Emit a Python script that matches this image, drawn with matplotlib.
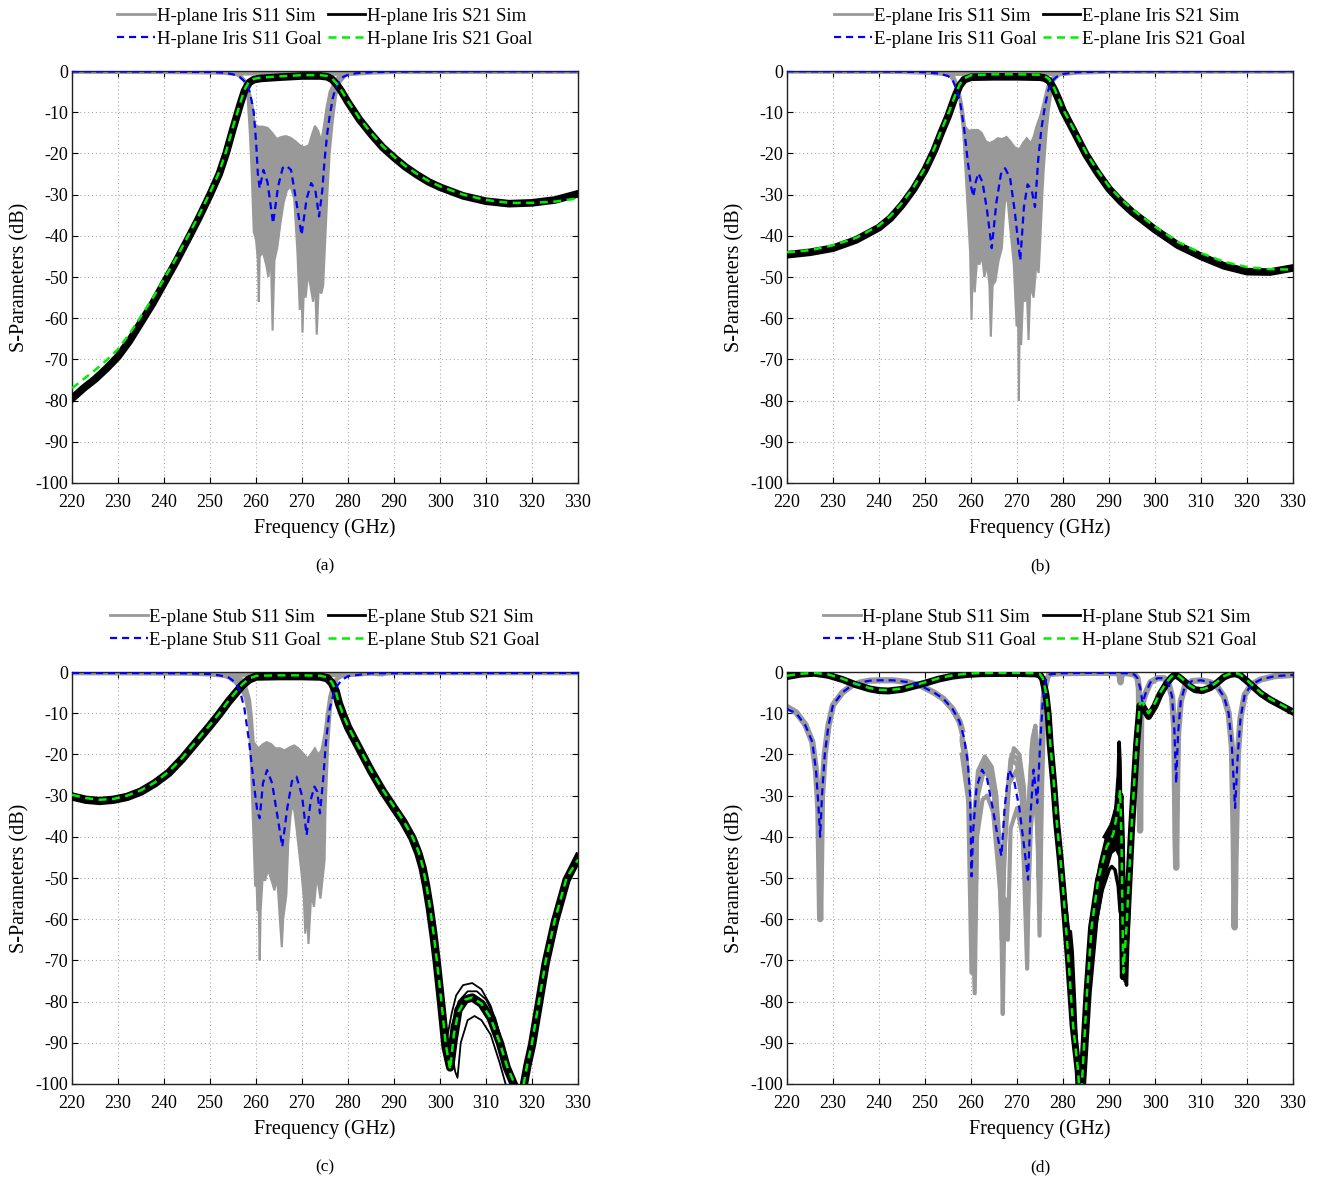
import numpy as np
import matplotlib
matplotlib.use('Agg')
import matplotlib.pyplot as plt
from matplotlib.lines import Line2D

plt.rcParams['font.family'] = ['Liberation Serif', 'DejaVu Serif']
plt.rcParams['axes.unicode_minus'] = False

GRAY = '#999999'
BLUE = '#0000ff'
GREEN = '#00ee00'

# ---------------- Panel (a): H-plane Iris ----------------
a_s21_f = [220, 222.5, 225, 227.5, 230, 232.5, 235, 237.5, 240, 242.5, 245, 247.5, 250, 252, 253.5, 255, 256.5,
           257.5, 258.5, 259.5, 261, 265, 270, 274, 275.5, 276.5, 277.5, 278.5, 280, 282.5, 285, 287.5, 290,
           292.5, 295, 297.5, 300, 305, 310, 315, 320, 325, 330]
a_s21_goal = [-77, -74.8, -72.6, -70.2, -67.5, -63.8, -59.5, -55.2, -50.5, -45.7, -40.5, -35.2, -29.5, -24.5,
              -19.5, -13.5, -8, -4.5, -2.5, -1.9, -1.6, -1.3, -1.0, -1.0, -1.2, -1.8, -3.0, -4.6, -7.4, -11.5,
              -15, -18.2, -20.8, -23.1, -25, -26.7, -28, -30, -31.3, -32, -32, -31.7, -30.9]
a_s21_sim = [-79.5, -77, -74.8, -72.2, -69.3, -65.5, -61, -56.5, -51.5, -46.5, -41.2, -35.8, -30, -25, -20, -14,
             -8.3, -4.8, -2.8, -2.1, -1.8, -1.5, -1.2, -1.2, -1.4, -2.0, -3.2, -4.8, -7.6, -11.8, -15.3, -18.5,
             -21, -23.3, -25.2, -26.9, -28.2, -30.3, -31.6, -32.2, -32, -31.3, -29.8]
a_s11_goal_f = [220, 240, 250, 253, 255, 256.5, 257.5, 258.3, 259, 259.5, 260, 260.4, 260.8, 261.6, 262.5,
                263.7, 264.8, 265.8, 266.6, 267.6, 268.8, 269.9, 271, 272, 272.9, 273.7, 274.4, 274.9, 275.5,
                276, 276.7, 277.4, 278.2, 279, 280, 282, 285, 290, 300, 330]
a_s11_goal = [-0.1, -0.15, -0.25, -0.4, -0.8, -1.5, -2.5, -3.8, -7, -10, -17, -25, -28.5, -24, -27, -37, -28,
              -23.5, -23, -24, -32, -39.8, -31, -27.2, -29, -35.3, -29, -21.6, -15, -11, -6.5, -3.8, -2.2,
              -1.4, -0.9, -0.5, -0.3, -0.15, -0.1, -0.05]
a_s11_up_f = [255, 256.5, 257.5, 258.5, 259.2, 259.7, 260.5, 261.5, 262.5, 263.5, 264.5, 265.5, 266.5, 267.5,
              268.5, 269.5, 270.5, 271.5, 272, 272.8, 273.5, 274.2, 274.8, 275.3, 276, 277, 278, 280]
a_s11_up = [-0.3, -0.8, -2, -4.5, -8, -13, -13.5, -13.5, -13.8, -15, -16.5, -16, -15.8, -16.2, -17, -18, -18.5,
            -18, -16, -13.3, -14.5, -17, -13, -9, -5, -2.5, -1, -0.3]
a_s11_lo_f = [255, 256.5, 257.4, 258.2, 258.7, 259.1, 259.5, 260, 260.4, 260.6, 260.8, 261.5, 262.2, 262.7,
              263.2, 263.6, 264, 264.6, 265.3, 266, 266.7, 267.5, 268.3, 269, 269.5, 269.8, 270.1, 270.4,
              270.8, 271.3, 271.8, 272.4, 272.8, 273.2, 273.6, 274.2, 274.6, 275, 275.5, 276, 276.7, 277.4,
              278.3, 279.5, 281]
a_s11_lo = [-0.5, -1.5, -2.5, -7, -16, -26, -39, -41, -46, -56, -45, -44, -47, -50, -44, -63, -46, -43, -37,
            -32, -29, -28, -31, -44, -58, -48, -63.5, -52, -55, -49, -52, -56, -50, -64, -53, -54, -52, -42,
            -30, -20, -12, -6, -2.8, -1.2, -0.5]
a_s11_out_f = [220, 240, 250, 253, 255, 281, 285, 290, 330]
a_s11_out = [-0.1, -0.15, -0.25, -0.35, -0.5, -0.6, -0.3, -0.15, -0.1]

# ---------------- Panel (b): E-plane Iris ----------------
b_s21_f = [220, 225, 230, 235, 240, 242.5, 245, 247.5, 250, 252, 253.5, 255, 256.5, 257.5, 258.5, 260, 265,
           270, 275, 276, 277, 278, 279, 280, 282.5, 285, 287.5, 290, 292.5, 295, 300, 305, 310, 315, 320,
           325, 330]
b_s21_goal = [-44, -43.5, -42.3, -40.5, -37.5, -35.2, -32, -28.2, -23.5, -18.8, -14.5, -10.5, -6, -3.3, -1.8,
              -1.0, -0.8, -0.8, -0.9, -1.2, -2, -4, -6.5, -9.3, -14.5, -19.8, -24.2, -28, -31, -33.5, -37.8,
              -41.5, -44.2, -46.3, -47.6, -48.1, -48.2]
b_s21_sim = [-44.6, -44, -43, -41, -38, -35.7, -32.5, -28.7, -24, -19.3, -15, -11, -6.3, -3.6, -2.1, -1.5,
             -1.4, -1.4, -1.5, -1.7, -2.4, -4.3, -6.8, -9.6, -14.9, -20.3, -24.7, -28.6, -31.6, -34.2, -38.5,
             -42.3, -45, -47.3, -48.7, -48.8, -47.8]
b_s11_goal_f = [220, 245, 250, 253, 255, 256, 256.9, 257.7, 258.5, 259.3, 260, 260.5, 261, 261.6, 262.5,
                263.5, 264.5, 265.5, 266.5, 267.4, 268.5, 269.5, 270.7, 271.5, 272.3, 273.2, 273.9, 274.6,
                275.3, 276, 276.8, 277.6, 278.5, 280, 283, 290, 330]
b_s11_goal = [-0.05, -0.15, -0.3, -0.6, -1.2, -2.2, -4.6, -8, -14, -22, -28, -30.5, -27, -24.8, -27, -34, -43,
              -32, -25, -23.6, -26, -34, -46, -33, -27.5, -29, -33, -21.6, -14, -9, -4.6, -2.5, -1.5, -0.7,
              -0.3, -0.1, -0.05]
b_s11_up_f = [254, 255.5, 256.2, 257, 257.6, 258.2, 258.7, 259.5, 260.5, 261.5, 262.3, 263.2, 264, 265,
              265.8, 266.8, 267.7, 268.5, 269.5, 270.5, 271.3, 272.1, 273, 273.6, 274.2, 275, 275.7, 276.5,
              277.2, 278, 280]
b_s11_up = [-0.5, -0.6, -1, -3, -5.4, -9, -13.5, -14.5, -14.3, -14.3, -15, -17, -17.5, -17, -16.3, -16.5,
            -16, -17, -18.5, -19, -17.5, -16.3, -17.5, -16, -13.5, -11, -8, -4, -2.2, -1, -0.4]
b_s11_lo_f = [254, 255.5, 256.5, 257.5, 258.3, 259, 259.5, 259.8, 260.1, 260.4, 260.8, 261.3, 261.8, 262.4,
              262.9, 263.5, 264, 264.3, 264.7, 265.3, 266, 266.7, 267.1, 267.5, 268, 268.5, 269.3, 269.9,
              270.2, 270.4, 270.6, 270.9, 271.3, 271.7, 272.1, 272.5, 272.9, 273.6, 274.2, 274.7, 275.1,
              275.5, 275.8, 276.4, 276.9, 277.5, 278, 279, 280.5]
b_s11_lo = [-0.8, -1.5, -3, -7, -15, -28, -38, -44, -60.4, -47, -53.7, -46, -47, -45, -50, -47, -52, -64.5,
            -52, -51, -46, -43, -36, -30, -32, -38, -47, -62, -55, -80, -58, -66.5, -55, -56, -52, -65.3, -52,
            -55, -47, -49, -40, -30, -24, -15, -9.7, -5, -2.5, -1.2, -0.6]
b_s11_out_f = [220, 245, 250, 254, 280.5, 283, 290, 330]
b_s11_out = [-0.05, -0.15, -0.3, -0.6, -0.6, -0.3, -0.1, -0.05]

# ---------------- Panel (c): E-plane Stub ----------------
c_s21_f = [220, 223, 226, 229, 232, 235, 238, 241, 244, 247, 250, 252, 254, 255.5, 257, 258.5, 260, 265, 270,
           274, 275.5, 276.5, 277.3, 278, 279, 280, 282.5, 285, 287.5, 290, 292, 294, 295.3, 296.2, 297,
           297.8, 298.6, 299.3, 300.3, 301.2, 302.2, 303, 304, 305.5, 307, 309, 311, 313, 314.5, 316.4,
           317.3, 318.1, 319, 320, 321.5, 323, 325, 327.5, 330]
c_s21_goal = [-29.8, -30.6, -31, -30.8, -30, -28.7, -26.8, -24.2, -20.8, -16.8, -12.8, -10, -7, -5, -3, -1.6,
              -0.9, -0.8, -0.8, -0.9, -1.3, -2.5, -4.5, -7.5, -10.5, -13.2, -18.5, -23.8, -28.5, -32.7, -36,
              -40, -43.5, -47, -51.5, -57, -63.5, -70, -80, -90, -96.5, -88, -82.5, -79.5, -79, -80.5, -84,
              -90, -95.5, -100.5, -115, -100.5, -95, -90, -80, -70, -60, -50, -45.5]
c_s21_sim = [-30.2, -31, -31.3, -31, -30.3, -29, -27, -24.5, -21, -17, -13, -10.2, -7.2, -5.2, -3.2, -1.8,
             -1.1, -1.0, -1.0, -1.1, -1.5, -2.7, -4.6, -7.6, -10.6, -13.4, -18.7, -24, -28.8, -33, -36.3,
             -40.3, -44, -47.5, -52, -57.5, -64, -70.5, -81, -91, -96, -89, -82, -79.5, -79, -80.5, -84, -90,
             -96, -101, -115, -101, -95.5, -90.5, -80.5, -70.5, -60.5, -50.5, -45]
c_var1_f = [300.5, 301.5, 302.5, 303.5, 305, 307, 309, 311, 313, 315]
c_var1 = [-88, -89, -83, -78.5, -76, -75.5, -77, -81, -88, -98]
c_var2_f = [302.5, 303.3, 303.8, 304.5, 306, 307.5, 309, 311, 313, 314.5]
c_var2 = [-92, -97, -98.5, -90, -84.5, -83.5, -84.5, -88, -95, -101]
c_var3_f = [300.5, 301.2, 301.7, 302.5, 304, 306, 308, 310, 312, 314]
c_var3 = [-85, -92, -93.5, -86, -80, -77.5, -77.5, -79.5, -84, -92]
c_s11_goal_f = [220, 245, 250, 252, 254, 255.5, 256.5, 257.5, 258.5, 259.5, 260.3, 260.8, 261.5, 262.4,
                263.5, 264.8, 265.7, 266.8, 267.8, 268.8, 270, 271, 271.9, 272.7, 273.3, 273.9, 274.6, 275.2,
                276, 277.1, 278.5, 280, 285, 330]
c_s11_goal = [-0.2, -0.3, -0.5, -0.8, -1.3, -2.5, -4.5, -9, -17, -27, -34, -35.5, -27, -23.8, -27, -36, -42.4,
              -33, -26.5, -25.4, -30, -39.6, -31, -27.8, -29, -34.3, -26, -17, -9, -4.3, -2, -1, -0.3, -0.2]
c_s11_up_f = [252, 255, 256.5, 257.4, 258, 258.7, 259.1, 259.5, 260.5, 261.5, 262.3, 263.3, 264.2, 265.2,
              266.2, 267.3, 268.3, 269.2, 270.2, 271.2, 272.2, 272.8, 273.5, 274.2, 274.9, 275.4, 275.9,
              276.6, 277.3, 278.5, 281]
c_s11_up = [-0.5, -0.8, -1.2, -2, -4, -6.7, -11, -17, -18.5, -17.5, -17, -17.5, -18.5, -18.5, -19, -18.3,
            -17.8, -18.5, -19.7, -21, -19.5, -18.5, -20, -19, -14.8, -10, -6, -3, -1.5, -0.7, -0.4]
c_s11_lo_f = [252, 254, 255.5, 256.5, 257.5, 258.3, 258.8, 259.1, 259.5, 259.8, 260.1, 260.3, 260.6, 260.8,
              261, 261.4, 262, 262.6, 263.2, 264, 264.6, 265.3, 265.6, 265.9, 266.6, 267, 267.5, 267.8,
              268.3, 268.8, 269.4, 269.9, 270.4, 270.7, 271.1, 271.4, 271.7, 272, 272.6, 273.2, 273.6, 274,
              274.5, 274.9, 275.1, 275.7, 276.5, 277.7, 279, 281]
c_s11_lo = [-0.9, -1.5, -2.8, -4, -6, -10, -20, -29.4, -41.6, -52, -50, -57.8, -58, -70, -58, -50.5, -50.5,
            -48, -50, -53, -50, -62, -66.8, -60, -54, -41.6, -35, -32.7, -33.5, -38, -44, -49, -55, -63.5, -58,
            -66, -60, -54, -57, -49.7, -52, -55, -50, -45.7, -33.5, -17.3, -5.9, -1.9, -1, -0.6]
c_s11_out_f = [220, 245, 250, 252, 281, 285, 287.5, 288, 290, 330]
c_s11_out = [-0.2, -0.3, -0.5, -0.7, -0.6, -0.3, -0.5, -0.3, -0.2, -0.2]

# ---------------- Panel (d): H-plane Stub ----------------
d_s21_f = [220, 223, 226, 229, 232, 235, 238, 240, 242, 245, 248, 250, 253, 256, 259, 262, 266, 270, 274, 275,
           275.6, 276.3, 276.8, 277.2, 278, 278.6, 279.4, 280.1, 281.2, 282.2, 283.3, 283.8, 284.1, 285.2,
           286.2, 287.7, 289.5, 290.9, 292, 292.4, 292.7, 293.1, 293.8, 294.9, 296, 296.7, 297.3, 298.6,
           300, 301.1, 302.5, 303.5, 304.3, 305.2, 306.3, 307.5, 308.7, 310.3, 312, 313.5, 315, 316.3,
           317.4, 318.5, 320, 321.5, 323, 325, 327.5, 330]
d_s21_goal = [-0.9, -0.4, -0.2, -0.6, -1.6, -2.9, -3.9, -4.3, -4.4, -4.0, -3.1, -2.5, -1.5, -0.8, -0.4, -0.25,
              -0.2, -0.2, -0.3, -0.5, -1.5, -5, -10, -17, -27, -36, -45, -54, -70, -86, -97, -108, -100, -78,
              -62, -50, -42.4, -39.4, -33, -28.6, -40, -73, -62, -37.5, -17.3, -7.6, -7.5, -10, -7.5, -5,
              -2.5, -1.2, -0.5, -1, -2, -3.2, -4, -4.2, -3.6, -2.4, -1, -0.4, -0.2, -0.6, -2, -3.5, -5, -6.5,
              -8, -9.5]
d_s21_sim = [-1.1, -0.5, -0.3, -0.8, -1.8, -3.1, -4.1, -4.5, -4.6, -4.2, -3.3, -2.7, -1.7, -1.0, -0.6, -0.4,
             -0.35, -0.35, -0.45, -0.7, -1.8, -5.5, -10.5, -17.5, -27.5, -36.5, -45.5, -54.5, -70, -86, -97,
             -108, -100, -78, -62, -50.5, -43, -40, -34, -30, -41, -74, -63, -38, -17.5, -8.2, -8.3, -10.8,
             -8.2, -5.4, -2.8, -1.4, -0.7, -1.2, -2.2, -3.4, -4.3, -4.5, -3.8, -2.6, -1.2, -0.6, -0.4, -0.8,
             -2.2, -3.7, -5.2, -6.7, -8.2, -9.7]
d_band_up_f = [284.3, 285.3, 286.5, 288, 289.5, 291, 292]
d_band_up = [-95, -75, -58, -48, -41, -36, -31]
d_band_lo_f = [284.8, 286, 287.5, 289, 290.5, 291.5, 292.3]
d_band_lo = [-100, -78, -60, -50, -44, -43, -45]
d_var1_f = [279.5, 280.5, 281.2, 281.6, 282, 282.5, 283, 283.5]
d_var1 = [-45, -56, -63, -63, -68, -80, -93, -102]
d_var2_f = [284.3, 285.5, 287, 288.5, 290, 290.6, 291.3, 292, 292.4, 292.8, 293.3, 293.8, 294.5]
d_var2 = [-102, -80, -62, -53, -48, -47.2, -48, -52, -58, -60, -70, -76, -50]
d_var3_f = [289, 290.5, 291.5, 292, 292.2, 292.4, 292.6, 293, 293.5, 294.2]
d_var3 = [-40, -37, -33, -25, -17, -22, -40, -60, -75, -55]
d_var4_f = [284.5, 285.5, 286.5, 288, 289.5, 291, 292]
d_var4 = [-95, -72, -58, -47, -40, -36, -30]
d_var5_f = [280, 281, 282, 282.6, 283, 283.4]
d_var5 = [-52, -64, -75, -88, -95, -102]
d_s11_goal_f = [220, 222, 224, 225.5, 226.3, 226.8, 227.2, 227.6, 228.2, 229, 230, 232, 234, 236, 238, 240,
                243, 246, 249, 252, 254, 256, 257.5, 258.5, 259.3, 259.8, 260.1, 260.5, 261.2, 262.4, 263.5,
                264.7, 265.8, 266.6, 267.3, 268.2, 269.3, 270.5, 271.5, 272.4, 272.9, 273.6, 274.4, 275,
                275.6, 276.3, 277, 279, 285, 290, 294, 295.5, 296.2, 296.8, 297.3, 298, 299, 300.5, 302,
                303, 303.7, 304.2, 304.6, 305, 305.6, 306.5, 308, 310, 312, 313.5, 315, 316, 316.7, 317.4,
                318, 318.6, 319.5, 321, 323, 326, 330]
d_s11_goal = [-9, -10, -13, -17, -24, -32, -40, -30, -20, -13, -8, -5, -3.3, -2.5, -2.1, -2, -2, -2.4, -3.3,
              -5, -6.5, -9, -12, -16, -22, -30, -49.6, -38, -28, -23.7, -26, -33, -40, -44.7, -33, -23.7,
              -26, -33, -42, -50.4, -35, -23.7, -31.8, -18, -7, -1.8, -0.6, -0.3, -0.2, -0.2, -0.3, -0.6,
              -1.5, -4, -7.5, -5, -2.5, -1.5, -1.5, -3, -6, -14, -27, -15, -7, -3.5, -2.2, -2, -2.5, -3.5,
              -6, -10, -18, -33, -20, -11, -5.5, -3, -1.8, -1, -0.7]
d_s11_outL_f = [220, 222, 224, 225.5, 226.3, 226.8, 227.05, 227.2, 227.35, 227.6, 228.2, 229, 230, 232, 234,
                236, 238, 240, 243, 246, 249, 252, 254, 256, 257.5, 258]
d_s11_outL = [-8.5, -9.8, -12.8, -17, -24, -33, -49, -60, -49, -30, -20, -13, -8, -5, -3.3, -2.5, -2.1, -2,
              -2, -2.4, -3.3, -5, -6.5, -9, -12, -14]
d_s11_outR_f = [277, 279, 285, 290, 292.2, 292.5, 292.8, 294, 295.5, 296.2, 296.5, 296.75, 297, 297.3, 298,
                299, 300.5, 302, 303, 303.7, 304.2, 304.45, 304.6, 304.75, 305, 305.6, 306.5, 308, 310, 312,
                313.5, 315, 316, 316.7, 317.1, 317.3, 317.5, 318, 318.6, 319.5, 321, 323, 326, 330]
d_s11_outR = [-0.5, -0.3, -0.2, -0.2, -0.3, -2.5, -0.3, -0.3, -0.6, -1.5, -4, -38.5, -9, -7.5, -5, -2.5, -1.5,
              -1.5, -3, -6, -14, -40, -47.5, -30, -15, -7, -3.5, -2.2, -2, -2.5, -3.5, -6, -10, -18, -40, -62,
              -45, -20, -11, -5.5, -3, -1.8, -1, -0.7]
d_t1_f = [258, 259, 259.8, 260.3, 260.7, 261.5, 263, 264.5, 265.5, 266.3, 266.8, 267.3, 268, 269.3, 270.5,
          271.5, 272.1, 272.6, 273.4, 274, 274.4, 274.7, 275, 275.6, 276.3, 277]
d_t1 = [-15, -20, -35, -50, -35, -24, -20.5, -23, -30, -43, -60, -42, -28, -18.5, -20, -28, -45, -30, -16, -13,
        -20, -38, -20, -6, -1.5, -0.5]
d_t2_f = [258, 259.3, 260.1, 260.6, 261.8, 263.5, 265, 266.2, 266.7, 267.2, 268.3, 269.8, 271, 272.2, 272.8,
          273.6, 274.3, 274.9, 275.3, 275.9, 277]
d_t2 = [-17, -26, -73, -35, -25, -24.5, -30, -50, -65, -45, -27, -24, -30, -72, -35, -23, -30, -64, -25, -4,
        -0.5]
d_t3_f = [258, 259.6, 260.8, 261.3, 262.5, 263.5, 264.8, 266.5, 266.9, 267.3, 268, 268.6, 270, 271.2, 272.3,
          273, 273.8, 274.5, 275, 275.4, 276, 277]
d_t3 = [-20, -33, -78, -40, -31, -30, -34, -55, -83, -55, -65, -38, -33, -40, -60, -38, -28, -40, -58, -30, -5,
        -0.5]
d_t4_f = [258, 259.5, 260.4, 261, 262.5, 264, 265.3, 266.5, 267, 267.5, 268.8, 270.2, 271.3, 272, 272.7,
          273.2, 273.8, 274.5, 274.8, 275.2, 275.8, 277]
d_t4 = [-16, -28, -60, -32, -22, -22.5, -29, -48, -55, -36, -20, -21, -28, -50, -30, -18, -14, -28, -45, -18,
        -4, -0.5]
d_t5_f = [258, 259.4, 260.2, 260.9, 261.5, 263.2, 264.8, 266, 266.6, 267.3, 268.6, 270, 271.2, 272.3, 272.9,
          273.6, 274.2, 274.7, 275.1, 275.8, 277]
d_t5 = [-16.5, -27, -55, -60, -30, -22, -27, -40, -60, -38, -21, -22.5, -32, -55, -32, -20, -25, -50, -22, -4,
        -0.5]

panels = [
    dict(name='H-plane Iris', label='(a)', pos=[0.0547, 0.5900, 0.3842, 0.3497]),
    dict(name='E-plane Iris', label='(b)', pos=[0.5976, 0.5900, 0.3842, 0.3497]),
    dict(name='E-plane Stub', label='(c)', pos=[0.0547, 0.0798, 0.3842, 0.3497]),
    dict(name='H-plane Stub', label='(d)', pos=[0.5976, 0.0798, 0.3842, 0.3497]),
]

fig = plt.figure(figsize=(13.17, 11.78), dpi=100)
DASH = (0, (3.2, 2.2))


def style(ax):
    ax.set_xlim(220, 330)
    ax.set_ylim(-100, 0)
    ax.set_xticks(np.arange(220, 331, 10))
    ax.set_yticks(np.arange(-100, 1, 10))
    ax.grid(True, linestyle=(0, (1, 2.5)), color='#aaaaaa', lw=0.8)
    ax.set_axisbelow(True)
    ax.tick_params(direction='in', top=True, right=True, labelsize=13, length=4, width=0.8)
    ax.tick_params(axis='x', pad=8)
    ax.tick_params(axis='y', pad=3)
    ax.set_xlabel('Frequency (GHz)', fontsize=14.5, labelpad=5)
    ax.set_ylabel('S-Parameters (dB)', fontsize=14.5, labelpad=4)
    for s in ax.spines.values():
        s.set_linewidth(1.0)
        s.set_color('#222222')


def polygon(ax, uf, uv, lf, lv, color, z):
    xs = np.r_[np.asarray(uf, float), np.asarray(lf, float)[::-1]]
    ys = np.r_[np.asarray(uv, float), np.asarray(lv, float)[::-1]]
    ax.fill(xs, ys, facecolor=color, edgecolor=color, linewidth=1.5, zorder=z)


axes = []
for p in panels:
    ax = fig.add_axes(p['pos'])
    style(ax)
    axes.append(ax)

# (a)
ax = axes[0]
ax.plot(a_s11_out_f, a_s11_out, color=GRAY, lw=3.5, zorder=2)
polygon(ax, a_s11_up_f, a_s11_up, a_s11_lo_f, a_s11_lo, GRAY, 2)
ax.plot(a_s21_f, a_s21_sim, color='black', lw=5.5, zorder=3)
ax.plot(a_s11_goal_f, a_s11_goal, color=BLUE, lw=1.6, ls=DASH, zorder=4)
ax.plot(a_s21_f, a_s21_goal, color=GREEN, lw=1.8, ls=DASH, zorder=5)

# (b)
ax = axes[1]
ax.plot(b_s11_out_f, b_s11_out, color=GRAY, lw=3.5, zorder=2)
polygon(ax, b_s11_up_f, b_s11_up, b_s11_lo_f, b_s11_lo, GRAY, 2)
ax.plot(b_s21_f, b_s21_sim, color='black', lw=5.5, zorder=3)
ax.plot(b_s11_goal_f, b_s11_goal, color=BLUE, lw=1.6, ls=DASH, zorder=4)
ax.plot(b_s21_f, b_s21_goal, color=GREEN, lw=1.8, ls=DASH, zorder=5)

# (c)
ax = axes[2]
ax.plot(c_s11_out_f, c_s11_out, color=GRAY, lw=3.5, zorder=2)
polygon(ax, c_s11_up_f, c_s11_up, c_s11_lo_f, c_s11_lo, GRAY, 2)
ax.plot(c_s21_f, c_s21_sim, color='black', lw=6, zorder=3)
for vf, vv in [(c_var1_f, c_var1), (c_var2_f, c_var2), (c_var3_f, c_var3)]:
    ax.plot(vf, vv, color='black', lw=1.3, zorder=3)
ax.plot(c_s11_goal_f, c_s11_goal, color=BLUE, lw=1.6, ls=DASH, zorder=4)
ax.plot(c_s21_f, c_s21_goal, color=GREEN, lw=1.8, ls=DASH, zorder=5)

# (d)
ax = axes[3]
ax.plot(d_s11_outL_f, d_s11_outL, color=GRAY, lw=4.5, zorder=2)
ax.plot(d_s11_outR_f, d_s11_outR, color=GRAY, lw=4.5, zorder=2)
for tf, tv in [(d_t1_f, d_t1), (d_t2_f, d_t2), (d_t3_f, d_t3), (d_t4_f, d_t4), (d_t5_f, d_t5)]:
    ax.plot(tf, tv, color=GRAY, lw=3, zorder=2)
polygon(ax, d_band_up_f, d_band_up, d_band_lo_f, d_band_lo, 'black', 3)
ax.plot(d_s21_f, d_s21_sim, color='black', lw=5, zorder=3)
for vf, vv in [(d_var1_f, d_var1), (d_var2_f, d_var2), (d_var3_f, d_var3), (d_var4_f, d_var4),
               (d_var5_f, d_var5)]:
    ax.plot(vf, vv, color='black', lw=2.5, zorder=3)
ax.plot(d_s11_goal_f, d_s11_goal, color=BLUE, lw=1.6, ls=DASH, zorder=4)
ax.plot(d_s21_f, d_s21_goal, color=GREEN, lw=1.8, ls=DASH, zorder=5)

for ax, p in zip(axes, panels):
    n = p['name']
    handles = [Line2D([], [], color=GRAY, lw=2),
               Line2D([], [], color=BLUE, lw=1.6, ls=DASH),
               Line2D([], [], color='black', lw=2),
               Line2D([], [], color=GREEN, lw=1.8, ls=DASH)]
    labels = [f'{n} S11 Sim', f'{n} S11 Goal', f'{n} S21 Sim', f'{n} S21 Goal']
    ax.legend(handles, labels, ncol=2, loc='lower center', bbox_to_anchor=(0.5, 1.0), frameon=False,
              fontsize=13.5, handlelength=2.0, handletextpad=0.1, columnspacing=0.35, labelspacing=0.3,
              borderaxespad=0.95, borderpad=0.3)
    x0, y0, w, h = p['pos']
    ty = y0 - 0.0705
    fig.text(x0 + w / 2, ty, p['label'], ha='center', va='center', fontsize=12.5)

fig.savefig('out.png', dpi=100)
